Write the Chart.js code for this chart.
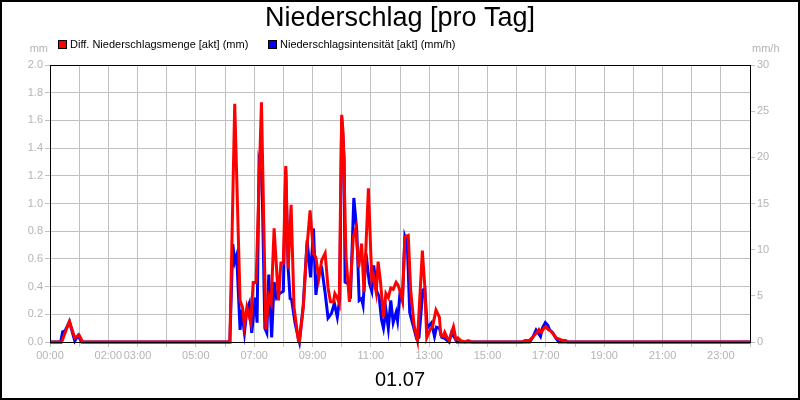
<!DOCTYPE html>
<html>
<head>
<meta charset="utf-8">
<script src="https://cdn.jsdelivr.net/npm/chart.js@4/dist/chart.umd.min.js"></script>
<style>
  html, body { margin: 0; padding: 0; background: #fff; }
  #wrap { width: 800px; height: 400px; }
</style>
</head>
<body>
<div id="wrap"><canvas id="c" width="800" height="400"></canvas></div>
<script>
// Diff. Niederschlagsmenge [akt] (mm)
const redTimes = ["00:00","00:24","00:40","00:51","01:00","01:07",
  "06:10","06:20","06:31","06:36","06:40","06:45","06:53","06:58","07:04","07:15","07:24","07:30","07:35","07:41",
  "07:50","07:55","08:00","08:05","08:10","08:16","08:22","08:31","08:33","08:41","08:48","08:55","09:02","09:07",
  "09:13","09:19","09:26","09:32","09:37","09:43","09:46","09:51","09:55","10:00","10:03","10:09","10:16","10:24",
  "10:29","10:35","10:41","10:46","10:55","11:02","11:05","11:11","11:15","11:20","11:26","11:31","11:36","11:41",
  "11:46","11:52","11:56","12:01","12:05","12:10","12:17","12:22","12:29","12:36","12:46","12:51","12:55","13:02",
  "13:07","13:14","13:21","13:24","13:29","13:32","13:37","13:41","13:50","13:55","13:59","14:05","14:14","14:20","14:28",
  "16:11","16:17","16:26","16:34","16:42","16:46","16:51","16:56","17:00","17:05","17:10","17:15","17:21","17:28",
  "17:35","17:41","17:45","24:00"];
const redValues = [0,0,0.15,0.03,0.05,0,
  0,1.72,0.30,0.25,0.12,0.25,0.14,0.43,0.43,1.73,0.09,0.33,0.28,0.82,
  0.30,0.57,0.57,1.27,0.53,0.99,0.25,0.01,0,0.25,0.66,0.95,0.64,0.61,
  0.46,0.59,0.64,0.39,0.29,0.29,0.35,0.32,0.28,1.64,1.51,0.61,0.29,0.76,
  0.82,0.54,0.71,0.36,1.11,0.45,0.48,0.36,0.58,0.43,0.18,0.35,0.32,0.39,
  0.38,0.43,0.41,0.36,0.30,0.76,0.77,0.37,0.12,0.01,0.66,0.40,0.03,0.09,
  0.11,0.23,0.18,0.05,0.04,0.07,0.03,0.01,0.11,0.02,0.03,0.01,0,0.01,0,
  0,0.01,0.01,0.04,0.07,0.09,0.07,0.10,0.11,0.09,0.08,0.06,0.03,0.02,
  0.01,0.01,0,0];

// Niederschlagsintensität [akt] (mm/h)
const blueTimes = ["00:00","00:22","00:26","00:31","00:40","00:51","00:58","01:05",
  "06:10","06:16","06:20","06:24","06:31","06:34","06:40","06:45","06:50","06:55","07:02","07:06","07:10","07:16",
  "07:22","07:26","07:30","07:36","07:41","07:46","07:53","08:00","08:05","08:10","08:14","08:17","08:24","08:31",
  "08:33","08:41","08:49","08:56","09:02","09:07","09:13","09:19","09:26","09:32","09:39","09:45","09:51","09:56",
  "10:00","10:05","10:07","10:14","10:18","10:25","10:31","10:36","10:41","10:44","10:50","10:57","11:02","11:06",
  "11:12","11:17","11:22","11:26","11:31","11:36","11:41","11:46","11:52","11:55","12:00","12:05","12:10","12:15",
  "12:20","12:27","12:34","12:39","12:47","12:51","12:56","13:05","13:11","13:15","13:21","13:26","13:32","13:41",
  "13:46","13:52","13:57",
  "16:27","16:34","16:40","16:44","16:49","16:53","16:59","17:04","17:08","17:14","17:21","17:27","24:00"];
const blueValues = [0,0,1.1,1.2,2.2,0.1,0.7,0,
  0,10.6,8.7,9.4,1.3,3.5,1.0,3.5,4.2,1.0,4.8,2.1,19.4,17.9,
  1.5,1.0,7.3,0.5,6.5,4.8,5.3,5.5,18.6,7.9,4.7,4.6,2.1,0.4,
  0,4.0,11.0,7.0,12.3,5.1,7.8,8.0,5.3,2.6,3.1,4.2,2.7,4.7,
  24.3,20.0,6.5,6.3,4.7,15.6,12.1,4.5,4.7,4.0,9.6,6.4,5.5,8.3,
  5.5,4.9,2.4,1.5,3.5,1.5,4.5,2.1,3.2,2.3,5.3,4.5,11.4,10.6,
  3.2,1.8,0.4,0.5,5.6,5.8,1.5,2.1,0.6,1.6,1.5,0.5,0.4,0,
  1.0,0.5,0,
  0,0.6,1.3,1.0,0.6,1.5,2.1,1.8,1.3,1.0,0.4,0,0];

const xLabels = ["00:00","02:00","03:00","05:00","07:00","09:00","11:00","13:00","15:00","17:00","19:00","21:00","23:00"];
const leftTicks = [0, 0.2, 0.4, 0.6, 0.8, 1.0, 1.2, 1.4, 1.6, 1.8, 2.0];
const rightTicks = [0, 5, 10, 15, 20, 25, 30];

function toMin(t) {
  const p = t.split(":");
  return parseInt(p[0]) * 60 + parseInt(p[1]);
}
function pts(times, vals) {
  return times.map((t, i) => ({ x: toMin(t), y: vals[i] }));
}
function fmt(m) {
  const h = Math.floor(m / 60);
  return (h < 10 ? "0" : "") + h + ":00";
}

const GRID = "#c0c0c0";
const TXT = "#b4b4b4";
const FONT = "Liberation Sans, Arial, sans-serif";

const decor = {
  id: "decor",
  afterDraw(chart) {
    const ctx = chart.ctx;
    const a = chart.chartArea;
    ctx.save();
    // plot frame
    ctx.strokeStyle = "#000";
    ctx.lineWidth = 1;
    ctx.strokeRect(a.left + 0.5, a.top + 0.5, a.right - a.left, a.bottom - a.top);
    // title
    ctx.fillStyle = "#000";
    ctx.font = "27px " + FONT;
    ctx.textAlign = "center";
    ctx.textBaseline = "middle";
    ctx.fillText("Niederschlag [pro Tag]", 400, 19);
    // date
    ctx.font = "20px " + FONT;
    ctx.fillText("01.07", 400, 380);
    // legend
    ctx.font = "11px " + FONT;
    ctx.textAlign = "left";
    const items = [["Diff. Niederschlagsmenge [akt] (mm)", "#ff0000", 58], ["Niederschlagsintensität [akt] (mm/h)", "#0000ff", 268]];
    items.forEach(([label, col, x]) => {
      ctx.fillStyle = col;
      ctx.fillRect(x, 41, 8, 8);
      ctx.strokeStyle = "#000";
      ctx.strokeRect(x + 0.5, 40.5, 8, 8);
      ctx.fillStyle = "#000";
      ctx.fillText(label, x + 12, 45);
    });
    // units
    ctx.fillStyle = TXT;
    ctx.textAlign = "right";
    ctx.fillText("mm", 48, 49);
    ctx.textAlign = "left";
    ctx.fillText("mm/h", 752, 49);
    // outer border
    ctx.strokeStyle = "#000";
    ctx.lineWidth = 2;
    ctx.strokeRect(1, 1, 798, 398);
    ctx.restore();
  }
};

new Chart(document.getElementById("c"), {
  type: "line",
  data: {
    datasets: [
      { label: "Diff. Niederschlagsmenge [akt] (mm)", data: pts(redTimes, redValues), borderColor: "#ff0000",
        borderWidth: 3, yAxisID: "y", clip: false },
      { label: "Niederschlagsintensität [akt] (mm/h)", data: pts(blueTimes, blueValues), borderColor: "#0000ff",
        borderWidth: 3, yAxisID: "y1", clip: false }
    ]
  },
  options: {
    responsive: false,
    animation: false,
    layout: { padding: { top: 65, left: 0, right: 0, bottom: 0 } },
    elements: { point: { radius: 0 }, line: { tension: 0 } },
    plugins: { legend: { display: false }, title: { display: false }, tooltip: { enabled: false } },
    scales: {
      x: {
        type: "linear", min: 0, max: 1440,
        afterBuildTicks: s => { s.ticks = []; for (let m = 0; m <= 1440; m += 60) s.ticks.push({ value: m }); },
        afterFit: s => { s.height = 58; },
        ticks: {
          autoSkip: false, maxRotation: 0, color: TXT, font: { family: FONT, size: 11 }, padding: 2,
          callback: v => xLabels.includes(fmt(v)) && v % 60 === 0 && v < 1440 ? fmt(v) : ""
        },
        grid: { color: GRID, tickLength: 5 },
        border: { color: "#000" }
      },
      y: {
        position: "left", min: 0, max: 2,
        afterBuildTicks: s => { s.ticks = leftTicks.map(v => ({ value: v })); },
        afterFit: s => { s.width = 50; },
        ticks: { color: TXT, font: { family: FONT, size: 11 }, padding: 2, callback: v => v.toFixed(1) },
        grid: { color: GRID, tickLength: 5 },
        border: { color: "#000" }
      },
      y1: {
        position: "right", min: 0, max: 30,
        afterBuildTicks: s => { s.ticks = rightTicks.map(v => ({ value: v })); },
        afterFit: s => { s.width = 50; },
        ticks: { color: TXT, font: { family: FONT, size: 11 }, padding: 2 },
        grid: { drawOnChartArea: false, color: GRID, tickLength: 5 },
        border: { color: "#000" }
      }
    }
  },
  plugins: [decor]
});
</script>
</body>
</html>
